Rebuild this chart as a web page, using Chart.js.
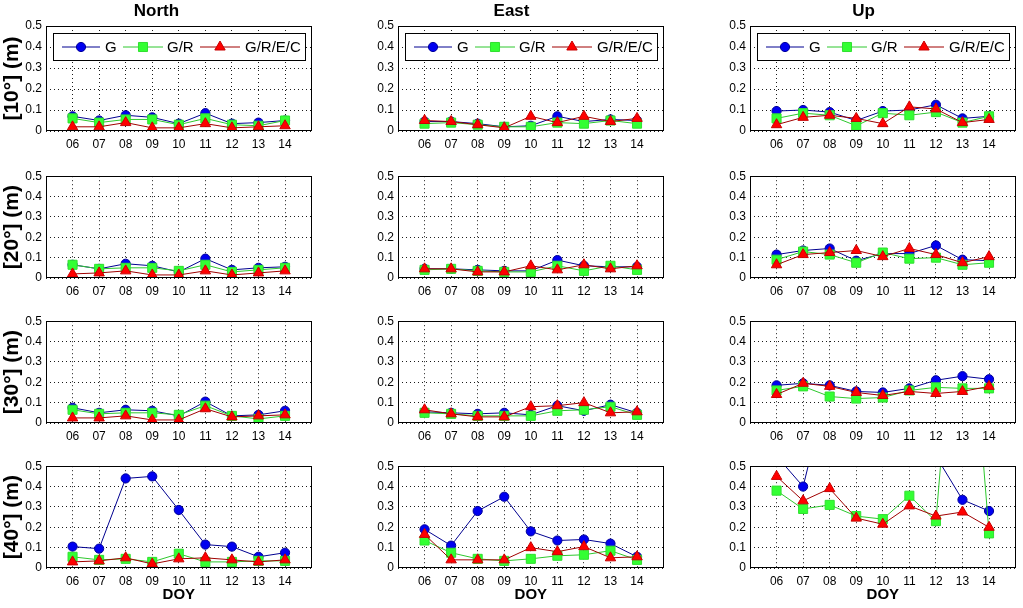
<!DOCTYPE html>
<html><head><meta charset="utf-8">
<script src="https://cdn.jsdelivr.net/npm/chart.js@4.4.0/dist/chart.umd.min.js"></script>
<style>
html,body{margin:0;padding:0;background:#fff;}
#wrap{position:relative;width:1023px;height:608px;overflow:hidden;background:#fff;}
canvas{position:absolute;}
</style></head><body><div id="wrap"></div>
<script>
const days = [6,7,8,9,10,11,12,13,14];
const dayLabels = ['06','07','08','09','10','11','12','13','14'];
const yTicks = [0,0.1,0.2,0.3,0.4,0.5];
const yTickLabels = ['0','0.1','0.2','0.3','0.4','0.5'];
const columnTitles = ['North','East','Up'];
const rowLabels = ['[10°] (m)','[20°] (m)','[30°] (m)','[40°] (m)'];
const seriesNames = ['G','G/R','G/R/E/C'];
const xTitle = 'DOY';

const north10_G    = [0.07,0.05,0.075,0.065,0.035,0.085,0.035,0.04,0.05];
const north10_GR   = [0.06,0.04,0.055,0.055,0.03,0.06,0.03,0.025,0.05];
const north10_GREC = [0.02,0.02,0.04,0.015,0.015,0.035,0.015,0.02,0.025];
const east10_G     = [0.045,0.045,0.035,0.02,0.025,0.07,0.045,0.055,0.05];
const east10_GR    = [0.035,0.04,0.03,0.02,0.02,0.04,0.035,0.05,0.035];
const east10_GREC  = [0.05,0.045,0.03,0.015,0.07,0.04,0.07,0.045,0.06];
const up10_G       = [0.095,0.1,0.09,0.05,0.095,0.1,0.125,0.06,0.07];
const up10_GR      = [0.06,0.085,0.075,0.025,0.085,0.075,0.09,0.04,0.07];
const up10_GREC    = [0.03,0.065,0.075,0.06,0.035,0.115,0.105,0.04,0.055];

const north20_G    = [0.065,0.045,0.07,0.06,0.03,0.095,0.04,0.05,0.055];
const north20_GR   = [0.065,0.045,0.05,0.05,0.035,0.065,0.03,0.04,0.05];
const north20_GREC = [0.02,0.025,0.035,0.015,0.015,0.035,0.015,0.025,0.035];
const east20_G     = [0.045,0.045,0.04,0.035,0.035,0.088,0.06,0.055,0.055];
const east20_GR    = [0.04,0.045,0.035,0.03,0.03,0.06,0.035,0.06,0.04];
const east20_GREC  = [0.045,0.045,0.03,0.03,0.06,0.04,0.065,0.045,0.06];
const up20_G       = [0.115,0.135,0.145,0.085,0.12,0.12,0.16,0.09,0.085];
const up20_GR      = [0.09,0.13,0.115,0.075,0.125,0.095,0.1,0.065,0.075];
const up20_GREC    = [0.065,0.115,0.125,0.135,0.105,0.145,0.115,0.075,0.105];

const north30_G    = [0.075,0.05,0.065,0.06,0.035,0.105,0.035,0.04,0.06];
const north30_GR   = [0.065,0.045,0.05,0.05,0.04,0.085,0.035,0.02,0.035];
const north30_GREC = [0.025,0.025,0.035,0.015,0.015,0.07,0.03,0.035,0.04];
const east30_G     = [0.055,0.05,0.045,0.05,0.04,0.085,0.06,0.09,0.05];
const east30_GR    = [0.05,0.045,0.035,0.035,0.035,0.06,0.065,0.08,0.04];
const east30_GREC  = [0.065,0.045,0.03,0.03,0.08,0.085,0.1,0.05,0.055];
const up30_G       = [0.185,0.195,0.185,0.155,0.15,0.17,0.21,0.23,0.215];
const up30_GR      = [0.16,0.18,0.13,0.12,0.125,0.16,0.175,0.17,0.17];
const up30_GREC    = [0.14,0.195,0.18,0.15,0.135,0.155,0.145,0.155,0.18];

const north40_G    = [0.105,0.095,0.44,0.45,0.285,0.115,0.105,0.055,0.075];
const north40_GR   = [0.055,0.04,0.045,0.03,0.07,0.03,0.03,0.035,0.035];
const north40_GREC = [0.03,0.035,0.05,0.02,0.045,0.05,0.04,0.03,0.04];
const east40_G     = [0.19,0.11,0.28,0.35,0.18,0.135,0.14,0.12,0.055];
const east40_GR    = [0.135,0.075,0.045,0.035,0.045,0.06,0.065,0.085,0.04];
const east40_GREC  = [0.165,0.04,0.04,0.04,0.1,0.08,0.105,0.05,0.055];
const up40_G       = [0.55,0.4,0.93,0.9,0.85,0.8,0.55,0.335,0.28];
const up40_GR      = [0.38,0.29,0.31,0.255,0.24,0.355,0.23,1.8,0.17];
const up40_GREC    = [0.45,0.33,0.39,0.245,0.215,0.305,0.255,0.275,0.2];

const panels = [
  [[north10_G,north10_GR,north10_GREC],[east10_G,east10_GR,east10_GREC],[up10_G,up10_GR,up10_GREC]],
  [[north20_G,north20_GR,north20_GREC],[east20_G,east20_GR,east20_GREC],[up20_G,up20_GR,up20_GREC]],
  [[north30_G,north30_GR,north30_GREC],[east30_G,east30_GR,east30_GREC],[up30_G,up30_GR,up30_GREC]],
  [[north40_G,north40_GR,north40_GREC],[east40_G,east40_GR,east40_GREC],[up40_G,up40_GR,up40_GREC]]
];

const FAMILY = '"Liberation Sans", Arial, Helvetica, sans-serif';
const styles = [
  {line:'#000090', fill:'#0000F0', edge:'#00009A', pointStyle:'circle', radius:4.6},
  {line:'#2EC82E', fill:'#33FF33', edge:'#30E030', pointStyle:'rect', radius:6.4},
  {line:'#A00000', fill:'#FF0000', edge:'#C80000', pointStyle:'triangle', radius:6.0}
];

const colLeft = [46, 398, 750];
const rowTop = [26, 173, 318, 463];
const plotW = 267, plotH = 105;

const framePlugin = {
  id:'frame',
  afterDraw(chart){
    const a = chart.chartArea, ctx = chart.ctx;
    ctx.save();
    ctx.strokeStyle = '#000'; ctx.lineWidth = 1; ctx.setLineDash([]);
    ctx.strokeRect(Math.round(a.left)+0.5, Math.round(a.top)+0.5, Math.round(a.right-a.left)-1, Math.round(a.bottom-a.top)-1);
    ctx.restore();
  }
};

function marker(ctx, st, x, y){
  ctx.fillStyle = st.fill; ctx.strokeStyle = st.edge; ctx.lineWidth = 1;
  ctx.beginPath();
  if (st.pointStyle === 'circle') { ctx.arc(x, y, st.radius, 0, Math.PI*2); }
  else if (st.pointStyle === 'rect') { const s = st.radius*Math.SQRT1_2; ctx.rect(x-s, y-s, 2*s, 2*s); }
  else { const r = st.radius; ctx.moveTo(x, y-r); ctx.lineTo(x+r*Math.sin(2*Math.PI/3), y-r*Math.cos(2*Math.PI/3)); ctx.lineTo(x+r*Math.sin(4*Math.PI/3), y-r*Math.cos(4*Math.PI/3)); ctx.closePath(); }
  ctx.fill(); ctx.stroke();
}

const legendPlugin = {
  id:'boxLegend',
  afterDraw(chart, args, opts){
    if (!opts || !opts.show) return;
    const a = chart.chartArea, ctx = chart.ctx;
    const bx = Math.round(a.left)+7, by = Math.round(a.top)+7, bw = 252, bh = 27;
    ctx.save();
    ctx.setLineDash([]);
    ctx.fillStyle = '#fff'; ctx.fillRect(bx, by, bw, bh);
    ctx.strokeStyle = '#000'; ctx.lineWidth = 1; ctx.strokeRect(bx+0.5, by+0.5, bw, bh);
    const cy = by + bh/2 + 0.5;
    const segs = [[16,54,35,59],[77,117,97,121],[154,194,174,199]];
    ctx.font = '15px ' + FAMILY; ctx.textBaseline = 'middle'; ctx.textAlign = 'left';
    chart.data.datasets.forEach((ds, i) => {
      const st = styles[i], s = segs[i], L = a.left;
      ctx.strokeStyle = st.line; ctx.lineWidth = 1;
      ctx.beginPath(); ctx.moveTo(L+s[0], cy); ctx.lineTo(L+s[1], cy); ctx.stroke();
      marker(ctx, st, L+s[2], cy);
      ctx.fillStyle = '#000';
      ctx.fillText(ds.label, L+s[3], cy+1);
    });
    ctx.restore();
  }
};

const wrap = document.getElementById('wrap');
for (let r = 0; r < 4; r++) {
  for (let c = 0; c < 3; c++) {
    const YW = c === 0 ? 46 : 40;
    const PT = r === 0 ? 26 : 8;
    const XH = r === 3 ? 40 : 22;
    const PR = 6;
    const cv = document.createElement('canvas');
    const W = YW + plotW + PR, H = PT + plotH + XH;
    cv.width = W; cv.height = H;
    cv.style.width = W + 'px'; cv.style.height = H + 'px';
    cv.style.left = (colLeft[c] - YW) + 'px';
    cv.style.top = (rowTop[r] - PT) + 'px';
    wrap.appendChild(cv);
    const series = panels[r][c];
    const datasets = series.map((vals, i) => ({
      label: seriesNames[i],
      data: days.map((d, k) => ({x: d, y: vals[k]})),
      borderColor: styles[i].line,
      borderWidth: 1,
      backgroundColor: styles[i].fill,
      pointStyle: styles[i].pointStyle,
      pointRadius: styles[i].radius,
      pointBackgroundColor: styles[i].fill,
      pointBorderColor: styles[i].edge,
      pointBorderWidth: 1,
      tension: 0,
      order: 3 - i
    }));
    new Chart(cv, {
      type: 'line',
      data: { datasets },
      options: {
        responsive: false, animation: false, devicePixelRatio: 1,
        events: [],
        layout: { padding: { left: 0, right: PR, top: r === 0 ? 0 : PT, bottom: 0 } },
        plugins: {
          legend: { display: false },
          tooltip: { enabled: false },
          title: { display: r === 0, text: columnTitles[c], color: '#000',
                   font: { size: 17, weight: 'bold', family: FAMILY, lineHeight: 1.2 },
                   padding: { top: 1, bottom: 4.6 } },
          boxLegend: { show: r === 0 }
        },
        scales: {
          x: {
            type: 'linear', min: 5, max: 15,
            afterBuildTicks: s => { s.ticks = days.map(v => ({ value: v })); },
            afterFit: s => { s.height = XH; },
            ticks: { callback: v => dayLabels[days.indexOf(v)], color: '#000', autoSkip: false, maxRotation: 0,
                     font: { size: 12, family: FAMILY }, padding: 6 },
            grid: { color: '#1a1a1a', lineWidth: 1, drawTicks: false },
            border: { display: false, dash: [1, 3] },
            title: { display: r === 3, text: xTitle, color: '#000',
                     font: { size: 15, weight: 'bold', family: FAMILY, lineHeight: 1.2 },
                     padding: { top: 0, bottom: 4 } }
          },
          y: {
            type: 'linear', min: 0, max: 0.5,
            afterBuildTicks: s => { s.ticks = yTicks.map(v => ({ value: v })); },
            afterFit: s => { s.width = YW; },
            ticks: { callback: v => yTickLabels[yTicks.indexOf(v)], color: '#000',
                     font: { size: 12, family: FAMILY }, padding: 4 },
            grid: { color: '#1a1a1a', lineWidth: 1, drawTicks: false },
            border: { display: false, dash: [1, 3] },
            title: { display: c === 0, text: rowLabels[r], color: '#000',
                     font: { size: 21, weight: 'bold', family: FAMILY, lineHeight: 1.2 },
                     padding: { top: 0, bottom: 0 } }
          }
        }
      },
      plugins: [framePlugin, legendPlugin]
    });
  }
}
</script>
</body></html>
